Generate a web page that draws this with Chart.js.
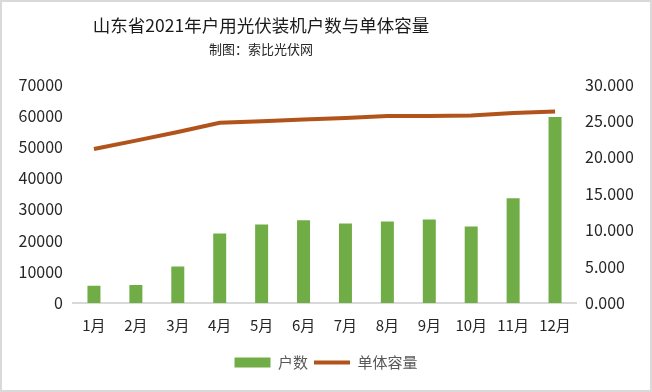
<!DOCTYPE html>
<html>
<head>
<meta charset="utf-8">
<script src="https://cdn.jsdelivr.net/npm/chart.js@4/dist/chart.umd.min.js"></script>
<style>
html,body{margin:0;padding:0;background:#fff;}
#wrap{width:652px;height:392px;position:relative;}
</style>
</head>
<body>
<div id="wrap"><canvas id="c" width="652" height="392"></canvas></div>
<script>
const months = ['1月','2月','3月','4月','5月','6月','7月','8月','9月','10月','11月','12月'];
const households = [5500, 5800, 11700, 22300, 25200, 26500, 25500, 26100, 26800, 24500, 33600, 59600];
const unitCapacity = [21.15, 22.3, 23.5, 24.75, 24.98, 25.2, 25.4, 25.67, 25.7, 25.75, 26.1, 26.3];
const leftTicks = [0, 10000, 20000, 30000, 40000, 50000, 60000, 70000];
const rightTicks = [0, 5, 10, 15, 20, 25, 30];

const FONT = '"Noto Sans CJK SC", "Noto Sans", sans-serif';

const frame = {
  id: 'frame',
  beforeDraw(chart) {
    const ctx = chart.ctx;
    ctx.save();
    ctx.fillStyle = '#ffffff';
    ctx.fillRect(0, 0, chart.width, chart.height);
    ctx.restore();
  },
  afterLayout(chart) {
    // title block in the reference is centred left of the canvas centre
    chart.boxes.forEach(b => {
      if (b.position === 'top' && b.options && typeof b.options.text === 'string') {
        b.right = b.right - 130;
      }
    });
  },
  afterDraw(chart) {
    const ctx = chart.ctx;
    ctx.save();
    ctx.strokeStyle = '#d9d9d9';
    ctx.lineWidth = 2;
    ctx.strokeRect(1, 1, chart.width - 2, chart.height - 2);
    ctx.restore();
  }
};

new Chart(document.getElementById('c'), {
  data: {
    labels: months,
    datasets: [
      {
        type: 'bar',
        label: '户数',
        data: households,
        backgroundColor: '#70AD47',
        borderWidth: 0,
        yAxisID: 'y',
        order: 2,
        categoryPercentage: 1,
        barPercentage: 0.31
      },
      {
        type: 'line',
        label: '单体容量',
        data: unitCapacity,
        borderColor: '#B1531A',
        backgroundColor: '#B1531A',
        borderWidth: 4,
        pointRadius: 0,
        tension: 0,
        yAxisID: 'y1',
        order: 1
      }
    ]
  },
  options: {
    responsive: false,
    animation: false,
    layout: { padding: { top: 6, bottom: 12, left: 0, right: 0 } },
    plugins: {
      title: {
        display: true,
        text: '山东省2021年户用光伏装机户数与单体容量',
        color: '#1a1a1a',
        font: { family: FONT, size: 17.5, weight: 'normal' },
        padding: { top: 9, bottom: 5 }
      },
      subtitle: {
        display: true,
        text: '制图：索比光伏网',
        color: '#262626',
        font: { family: FONT, size: 13, weight: 'normal' },
        padding: { top: 0, bottom: 28 }
      },
      legend: {
        position: 'bottom',
        labels: {
          usePointStyle: true,
          pointStyleWidth: 36,
          boxHeight: 10,
          color: '#595959',
          font: { family: FONT, size: 15 },
          padding: 6,
          sort: (a, b) => a.datasetIndex - b.datasetIndex,
          generateLabels(chart) {
            return chart.data.datasets.map((ds, i) => ({
              text: ds.label,
              fillStyle: ds.backgroundColor,
              strokeStyle: ds.type === 'line' ? ds.borderColor : ds.backgroundColor,
              lineWidth: ds.type === 'line' ? 4 : 0,
              pointStyle: ds.type === 'line' ? 'line' : 'rect',
              datasetIndex: i,
              hidden: false,
              fontColor: '#595959'
            }));
          }
        }
      },
      tooltip: { enabled: false }
    },
    scales: {
      x: {
        grid: { display: false, drawTicks: false },
        border: { display: true, color: '#d9d9d9', width: 2 },
        ticks: { color: '#262626', font: { family: FONT, size: 15 }, padding: 13, maxRotation: 0 },
        afterFit(scale) { scale.height += 2; }
      },
      y: {
        position: 'left',
        min: 0, max: 70000,
        afterBuildTicks(scale) { scale.ticks = leftTicks.map(v => ({ value: v })); },
        afterFit(scale) { scale.width = 73; },
        grid: { display: false, drawTicks: false },
        border: { display: false },
        ticks: { color: '#262626', font: { family: FONT, size: 16 }, padding: 10, callback: v => String(v) }
      },
      y1: {
        position: 'right',
        min: 0, max: 30,
        afterBuildTicks(scale) { scale.ticks = rightTicks.map(v => ({ value: v })); },
        afterFit(scale) { scale.width = 76; },
        grid: { display: false, drawTicks: false },
        border: { display: false },
        ticks: { color: '#262626', font: { family: FONT, size: 16 }, padding: 9, callback: v => Number(v).toFixed(3) }
      }
    }
  },
  plugins: [frame]
});
</script>
</body>
</html>
